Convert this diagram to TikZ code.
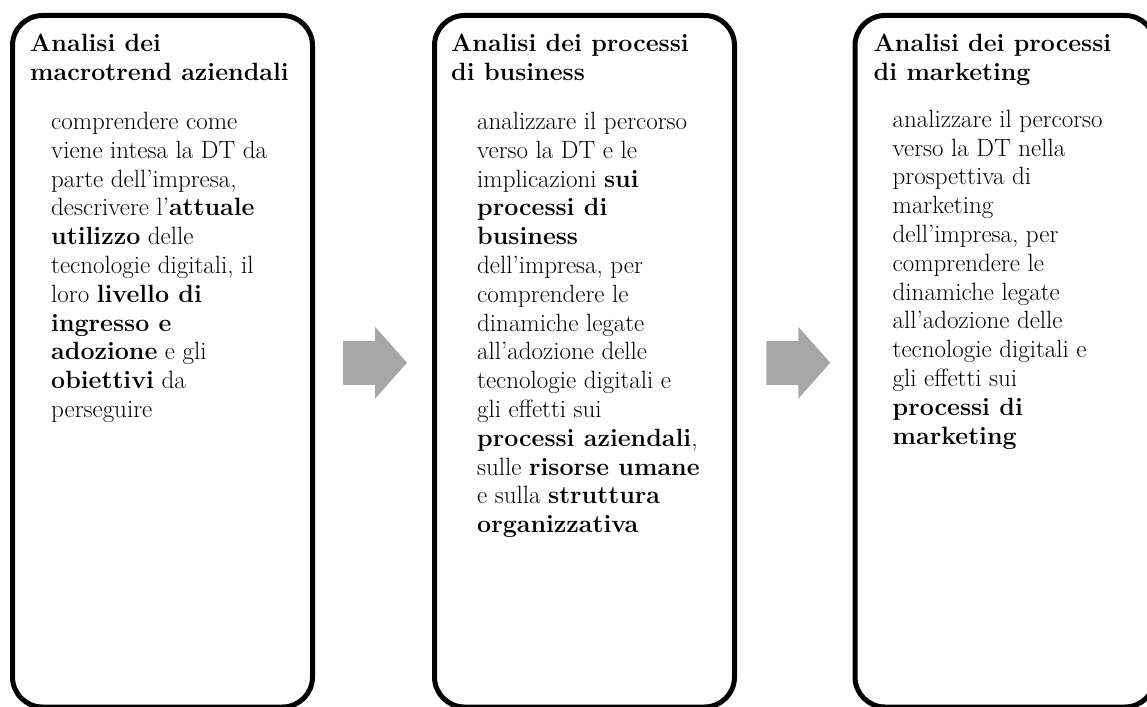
\documentclass[tikz,border=0pt]{standalone}
\usetikzlibrary{calc}
\definecolor{arrowgray}{HTML}{A6A6A6}
\tikzset{
  panel/.style={draw, line width=5pt, rounded corners=30pt,
    minimum width=300pt, minimum height=691.5pt},
  headtxt/.style={anchor=base west, align=left, inner sep=0pt,
    font=\fontsize{25}{28.5}\selectfont\bfseries},
  bodytxt/.style={anchor=base west, align=left, inner sep=0pt,
    font=\fontsize{25}{28.8}\selectfont},
  flow/.style={fill=arrowgray}
}
\begin{document}
\begin{tikzpicture}[x=1pt,y=-1pt]
  \useasboundingbox (0,0) rectangle (1147,706);
  \clip (0,0) rectangle (1147,706);
  % the three panels (text nodes sit on their last baseline)
  \node[panel] (boxA) at (162.5,361.25) {};
  \node[panel] (boxB) at (584.5,361.25) {};
  \node[panel] (boxC) at (1005,361.25) {};
  \node[headtxt] (headA) at ([xshift=20pt,yshift=-67.5pt]boxA.north west)
    {Analisi dei\\macrotrend aziendali};
  \node[bodytxt] (textA) at ([xshift=41pt,yshift=-404.5pt]boxA.north west)
    {comprendere come\\viene intesa la DT da\\parte dell’impresa,\\
     descrivere l’\textbf{attuale}\\\textbf{utilizzo} delle\\
     tecnologie digitali, il\\loro \textbf{livello di}\\\textbf{ingresso e}\\
     \textbf{adozione} e gli\\\textbf{obiettivi} da\\perseguire};
  \node[headtxt] (headB) at ([xshift=19pt,yshift=-67.5pt]boxB.north west)
    {Analisi dei processi\\di business};
  \node[bodytxt] (textB) at ([xshift=45pt,yshift=-519.7pt]boxB.north west)
    {analizzare il percorso\\verso la DT e le\\implicazioni \textbf{sui}\\
     \textbf{processi di}\\\textbf{business}\\dell’impresa, per\\
     comprendere le\\dinamiche legate\\all’adozione delle\\
     tecnologie digitali e\\gli effetti sui\\\textbf{processi aziendali},\\
     sulle \textbf{risorse umane}\\e sulla \textbf{struttura}\\
     \textbf{organizzativa}};
  \node[headtxt] (headC) at ([xshift=21pt,yshift=-67.5pt]boxC.north west)
    {Analisi dei processi\\di marketing};
  \node[bodytxt] (textC) at ([xshift=40pt,yshift=-431pt]boxC.north west)
    {analizzare il percorso\\verso la DT nella\\prospettiva di\\marketing\\
     dell’impresa, per\\comprendere le\\dinamiche legate\\
     all’adozione delle\\tecnologie digitali e\\gli effetti sui\\
     \textbf{processi di}\\\textbf{marketing}};
  % block arrows
  \coordinate (arrA) at ($(boxA.east)!.5!(boxB.west)+(1.5,1.5)$);
  \coordinate (arrB) at ($(boxB.east)!.5!(boxC.west)+(3.5,1.5)$);
  \foreach \a in {arrA,arrB}
    \fill[flow] (\a) ++(-32,-22) -- ++(32,0) -- ++(0,-14) -- ++(32,36)
      -- ++(-32,36) -- ++(0,-14) -- ++(-32,0) -- cycle;
\end{tikzpicture}
\end{document}
